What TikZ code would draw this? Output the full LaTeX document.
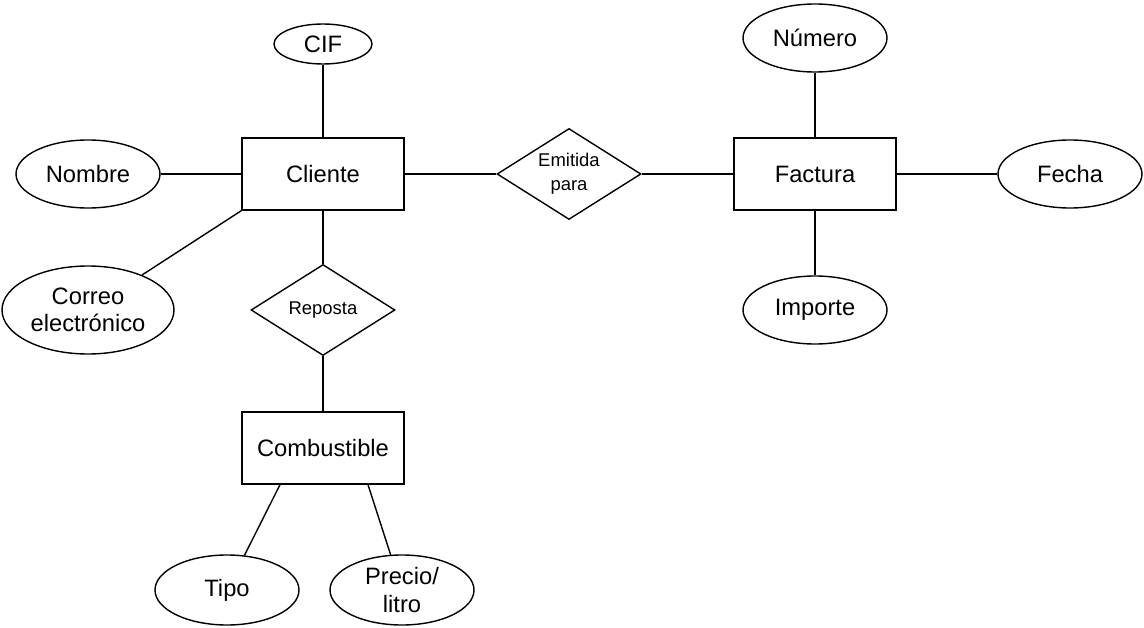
\documentclass[tikz,border=0pt]{standalone}
\usepackage{fontspec}
\setmainfont{Liberation Sans}
\usetikzlibrary{calc,shapes.geometric}

\begin{document}
\begin{tikzpicture}[
        entity/.style={
            rectangle,
            draw,
            line width=0.8pt,
            align=center,
            minimum width=3.24cm,
            minimum height=1.44cm,
            font=\fontsize{13.5}{15.5}\selectfont,
            inner sep=2pt
        },
        attr/.style={
            ellipse,
            draw,
            line width=0.8pt,
            align=center,
            minimum width=2.88cm,
            minimum height=1.36cm,
            font=\fontsize{13.5}{15.5}\selectfont,
            inner sep=0pt
        },
        rel/.style={
            diamond,
            aspect=1.6,
            draw,
            line width=0.8pt,
            align=center,
            minimum width=2.88cm,
            minimum height=1.82cm,
            font=\fontsize{10.5}{13.5}\selectfont,
            inner sep=0pt
        },
        link/.style={
            line width=0.8pt
        }
    ]

        \useasboundingbox (0,0) rectangle (22.88,-12.56);

        \node[entity] (cliente) at (6.46,-3.48) {Cliente};
        \node[entity] (combustible) at (6.46,-8.96) {Combustible};
        \node[entity] (factura) at (16.30,-3.48) {Factura};

        \node[rel] (reposta) at (6.46,-6.20) {Reposta};
        \node[rel] (emitida) at (11.38,-3.48) {Emitida\\para};

        \node[attr, minimum width=1.96cm, minimum height=0.80cm] (cif) at (6.46,-0.88) {CIF};
        \node[attr] (nombre) at (1.76,-3.48) {Nombre};
        \node[attr, minimum width=3.44cm, minimum height=1.76cm] (correo) at (1.76,-6.20) {Correo\\electrónico};
        \node[attr, minimum height=1.40cm] (tipo) at (4.54,-11.80) {Tipo};
        \node[attr, minimum height=1.40cm] (precio) at (8.04,-11.80) {Precio/\\litro};
        \node[attr] (numero) at (16.30,-0.76) {Número};
        \node[attr] (fecha) at (21.40,-3.48) {Fecha};
        \node[attr] (importe) at (16.30,-6.20) {Importe};

        \draw[link] (cif) -- (cliente);
        \draw[link] (nombre) -- (cliente);
        \draw[link] (cliente.south west) -- (correo);
        \draw[link] (cliente) -- (reposta);
        \draw[link] (reposta) -- (combustible);
        \draw[link] ([xshift=-0.86cm]combustible.south) -- (tipo);
        \draw[link] ([xshift=0.90cm]combustible.south) -- (precio);
        \draw[link] (cliente) -- (emitida);
        \draw[link] (emitida) -- (factura);
        \draw[link] (numero) -- (factura);
        \draw[link] (factura) -- (fecha);
        \draw[link] (factura) -- (importe);

    \end{tikzpicture}
\end{document}
